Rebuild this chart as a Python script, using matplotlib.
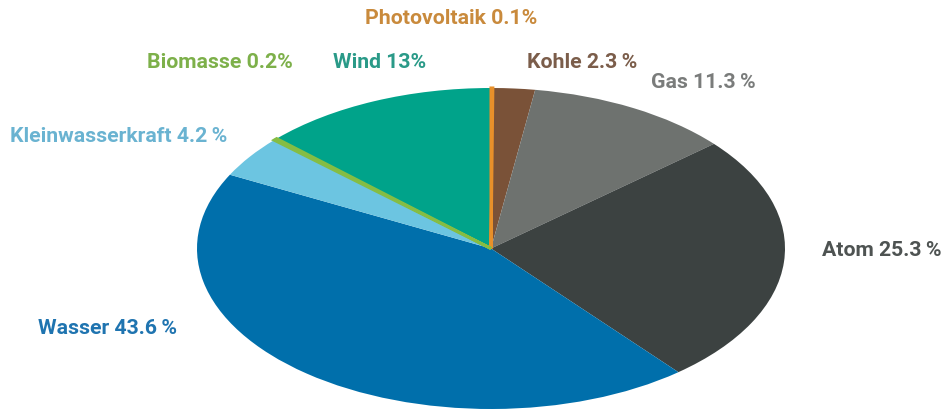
import matplotlib
matplotlib.use("Agg")
import matplotlib.pyplot as plt

# Data
categories = ["Photovoltaik", "Kohle", "Gas", "Atom", "Wasser",
              "Kleinwasserkraft", "Biomasse", "Wind"]
shares = [0.1, 2.3, 11.3, 25.3, 43.6, 4.2, 0.2, 13.0]
pct_labels = ["0.1%", "2.3\u2009%", "11.3\u2009%", "25.3\u2009%", "43.6\u2009%",
              "4.2\u2009%", "0.2%", "13%"]

slice_colors = ["#E8902A", "#7A5238", "#6E726F", "#3C4241", "#006FAB",
                "#6CC5E1", "#85BD44", "#00A38A"]
label_colors = ["#C98A3C", "#7B5D4A", "#7A7C7B", "#4E5352", "#1F74B0",
                "#6AB3D1", "#7DB04A", "#2A9A88"]

# label left-edge position (pixels) and vertical center (pixels from top)
label_pos = [(365, 18), (527, 62), (651, 82), (822, 251), (38, 328),
             (10, 137), (147, 63), (333, 62)]

W, H = 943, 412
fig = plt.figure(figsize=(W / 100, H / 100), dpi=100)
ax = fig.add_axes([0, 0, 1, 1])

wedges, _ = ax.pie(shares, colors=slice_colors, startangle=90, counterclock=False,
                   radius=1.0, center=(0, 0), wedgeprops=dict(linewidth=0))
# make the very thin slices visible (as in the reference)
for w, s, c in zip(wedges, shares, slice_colors):
    if s < 1:
        w.set_edgecolor(c)
        w.set_linewidth(2.2)
        w.set_zorder(3)

# elliptical pie: center (491, 248.5) px, rx 294 px, ry 160.5 px
cx, cy, rx, ry = 491, 248.5, 294, 160.5
ax.set_aspect("auto")
ax.set_xlim(-cx / rx, (W - cx) / rx)
ax.set_ylim(-(H - cy) / ry, cy / ry)
ax.axis("off")

for cat, pl, col, (px, py) in zip(categories, pct_labels, label_colors, label_pos):
    fig.text(px / W, 1 - py / H, f"{cat} {pl}", ha="left", va="center",
             fontsize=15.3, fontweight="bold", color=col,
             family=["Roboto", "DejaVu Sans"])

fig.savefig("out.png", dpi=100)
